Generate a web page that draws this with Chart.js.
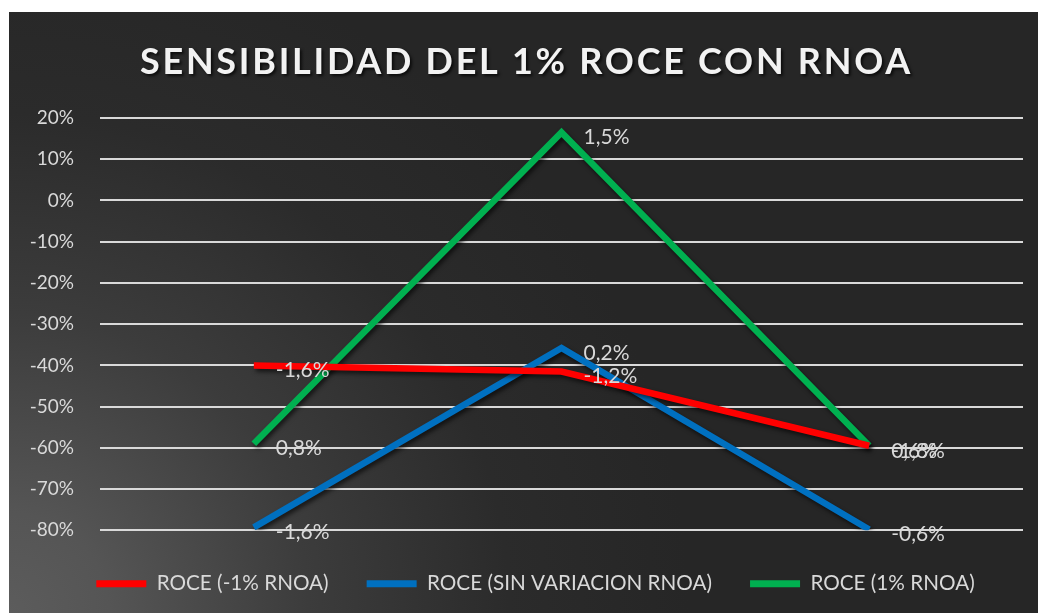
<!DOCTYPE html>
<html>
<head>
<meta charset="utf-8">
<script src="https://cdn.jsdelivr.net/npm/chart.js@4/dist/chart.umd.min.js"></script>
<style>
html, body { margin: 0; padding: 0; background: #fff; }
#wrap {
    position: absolute; left: 9px; top: 12px; width: 1029px; height: 601px;
    background: radial-gradient(circle at 0% 100%, #5c5c5c 0px, #555555 100px, #3c3c3c 300px, #2b2b2b 500px, #262626 680px);
}
</style>
</head>
<body>
<div id="wrap"><canvas id="myChart" width="1029" height="601"></canvas></div>
<script>
const ctx = document.getElementById('myChart').getContext('2d');

const titleText = 'SENSIBILIDAD DEL 1% ROCE CON RNOA';
const categories = ['1', '2', '3'];
const roceMenos1 = [-40, -41.5, -59.5];
const roceSinVar = [-79.3, -35.8, -79.8];
const roceMas1 = [-59, 16.5, -59.5];
const etiquetasMenos1 = ['-1,6%', '-1,2%', '-1,8%'];
const etiquetasSinVar = ['-1,6%', '0,2%', '-0,6%'];
const etiquetasMas1 = ['0,8%', '1,5%', '0,6%'];
const yTicks = [20, 10, 0, -10, -20, -30, -40, -50, -60, -70, -80];

const lineShadow = {
    id: 'lineShadow',
    beforeDatasetsDraw(chart) {
        const c = chart.ctx;
        c.save();
        c.shadowColor = 'rgba(0,0,0,0.6)';
        c.shadowBlur = 4;
        c.shadowOffsetX = 2;
        c.shadowOffsetY = 3;
    },
    afterDatasetsDraw(chart) {
        chart.ctx.restore();
    }
};

const valueLabels = {
    id: 'valueLabels',
    afterDatasetsDraw(chart) {
        const c = chart.ctx;
        c.save();
        c.font = '21px Lato';
        c.fillStyle = '#d9d9d9';
        c.textAlign = 'left';
        c.textBaseline = 'middle';
        chart.data.datasets.forEach((ds, i) => {
            chart.getDatasetMeta(i).data.forEach((pt, j) => {
                c.fillText(ds.etiquetas[j], pt.x + 22, pt.y + 5);
            });
        });
        c.restore();
    }
};

const spacedTitle = {
    id: 'spacedTitle',
    afterDraw(chart) {
        const c = chart.ctx;
        c.save();
        c.font = 'bold 36px Lato';
        const w = c.measureText(titleText).width;
        c.letterSpacing = ((773 - w) / titleText.length).toFixed(2) + 'px';
        c.fillStyle = '#f2f2f2';
        c.textAlign = 'left';
        c.textBaseline = 'middle';
        c.shadowColor = 'rgba(0,0,0,0.7)';
        c.shadowBlur = 3;
        c.shadowOffsetX = 2;
        c.shadowOffsetY = 2;
        c.fillText(titleText, 131, 50);
        c.restore();
    }
};

// legend sits a little right of the canvas centre
const legendShift = {
    id: 'legendShift',
    afterLayout(chart) {
        chart.legend.left += 15;
        chart.legend.right += 15;
    }
};

new Chart(ctx, {
    type: 'line',
    data: {
        labels: categories,
        datasets: [{
            label: 'ROCE (-1% RNOA)',
            data: roceMenos1,
            etiquetas: etiquetasMenos1,
            borderColor: '#ff0000',
            backgroundColor: '#ff0000',
        }, {
            label: 'ROCE (SIN VARIACION RNOA)',
            data: roceSinVar,
            etiquetas: etiquetasSinVar,
            borderColor: '#0070c0',
            backgroundColor: '#0070c0',
        }, {
            label: 'ROCE (1% RNOA)',
            data: roceMas1,
            etiquetas: etiquetasMas1,
            borderColor: '#00b050',
            backgroundColor: '#00b050',
        }]
    },
    options: {
        responsive: false,
        animation: false,
        datasets: {
            line: {
                borderWidth: 6.5,
                pointRadius: 0,
                tension: 0,
                borderJoinStyle: 'miter',
                fill: false
            }
        },
        layout: { padding: { left: 9, right: 15, top: 106, bottom: 9 } },
        scales: {
            x: {
                offset: true,
                afterFit(scale) { scale.height = 5; },
                ticks: { display: false },
                grid: { display: false },
                border: { display: false }
            },
            y: {
                min: -80,
                max: 20,
                afterBuildTicks(scale) {
                    scale.ticks = yTicks.map(v => ({ value: v }));
                },
                afterFit(scale) { scale.width = 82; },
                ticks: {
                    color: '#d9d9d9',
                    font: { family: 'Lato', size: 19 },
                    padding: 26,
                    callback: v => v + '%'
                },
                grid: { color: '#d9d9d9', lineWidth: 2, drawTicks: false },
                border: { display: false }
            }
        },
        plugins: {
            title: { display: false },
            tooltip: { enabled: false },
            legend: {
                position: 'bottom',
                labels: {
                    color: '#d9d9d9',
                    font: { family: 'Lato', size: 20.7 },
                    boxWidth: 50,
                    boxHeight: 7,
                    padding: 38,
                    generateLabels(chart) {
                        return Chart.defaults.plugins.legend.labels.generateLabels(chart)
                            .map(l => ({ ...l, lineWidth: 0, strokeStyle: 'rgba(0,0,0,0)' }));
                    }
                }
            }
        }
    },
    plugins: [lineShadow, valueLabels, spacedTitle, legendShift]
});
</script>
</body>
</html>
